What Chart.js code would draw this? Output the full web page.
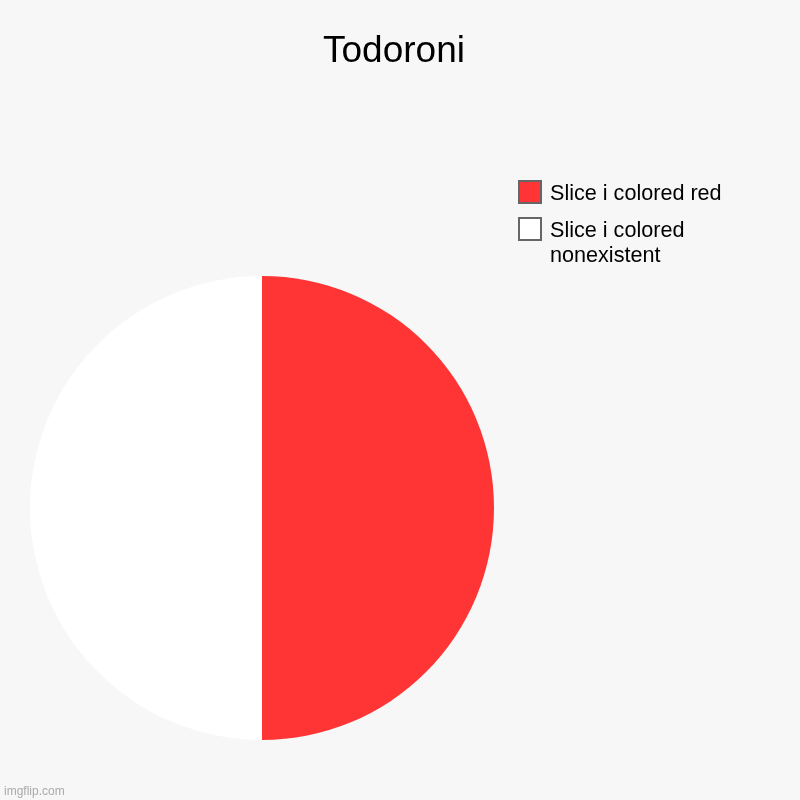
<!DOCTYPE html>
<html>
<head>
<meta charset="utf-8">
<script src="https://cdn.jsdelivr.net/npm/chart.js@4/dist/chart.umd.min.js"></script>
<style>
  html, body { margin: 0; padding: 0; background: #f7f7f7; }
  #wrap { width: 800px; height: 800px; position: relative; }
</style>
</head>
<body>
<div id="wrap"><canvas id="c" width="800" height="800"></canvas></div>
<script>
const titleText = "Todoroni";
const sliceLabels = ["Slice i colored red", "Slice i colored nonexistent"];
const sliceValues = [50, 50];
const sliceColors = ["#ff3535", "#ffffff"];
const watermark = "imgflip.com";

const FONT = "'Liberation Sans', Arial, Helvetica, sans-serif";

function wrapText(ctx, text, maxW) {
  const words = text.split(" ");
  const lines = [];
  let cur = "";
  for (const w of words) {
    const test = cur ? cur + " " + w : w;
    if (ctx.measureText(test).width > maxW && cur) {
      lines.push(cur);
      cur = w;
    } else {
      cur = test;
    }
  }
  if (cur) lines.push(cur);
  return lines;
}

const decorPlugin = {
  id: "decor",
  beforeDraw(chart) {
    const ctx = chart.ctx;
    ctx.save();
    ctx.fillStyle = "#f7f7f7";
    ctx.fillRect(0, 0, chart.width, chart.height);
    ctx.restore();
  },
  afterDraw(chart) {
    const ctx = chart.ctx;
    ctx.save();
    // title
    ctx.fillStyle = "#000000";
    ctx.font = "37px " + FONT;
    ctx.textAlign = "center";
    ctx.textBaseline = "alphabetic";
    ctx.fillText(titleText, 394, 62);

    // legend
    const labels = chart.data.labels;
    const colors = chart.data.datasets[0].backgroundColor;
    ctx.font = "21.6px " + FONT;
    ctx.textAlign = "left";
    let boxTop = 181;
    for (let i = 0; i < labels.length; i++) {
      const lines = wrapText(ctx, labels[i], 200);
      ctx.fillStyle = colors[i];
      ctx.fillRect(519, boxTop, 22, 22);
      ctx.lineWidth = 2;
      ctx.strokeStyle = "#666666";
      ctx.strokeRect(519, boxTop, 22, 22);
      ctx.fillStyle = "#000000";
      lines.forEach((ln, j) => {
        ctx.fillText(ln, 550, boxTop + 19 + j * 25);
      });
      boxTop += 37 + (lines.length - 1) * 25;
    }

    // watermark
    ctx.fillStyle = "#aaaaaa";
    ctx.font = "12px " + FONT;
    ctx.fillText(watermark, 4, 795);
    ctx.restore();
  }
};

new Chart(document.getElementById("c"), {
  type: "pie",
  data: {
    labels: sliceLabels,
    datasets: [{
      data: sliceValues,
      backgroundColor: sliceColors,
      borderWidth: 0
    }]
  },
  options: {
    responsive: false,
    animation: false,
    layout: { padding: { left: 30, right: 306, top: 276, bottom: 60 } },
    plugins: {
      legend: { display: false },
      title: { display: false },
      tooltip: { enabled: false }
    }
  },
  plugins: [decorPlugin]
});
</script>
</body>
</html>
